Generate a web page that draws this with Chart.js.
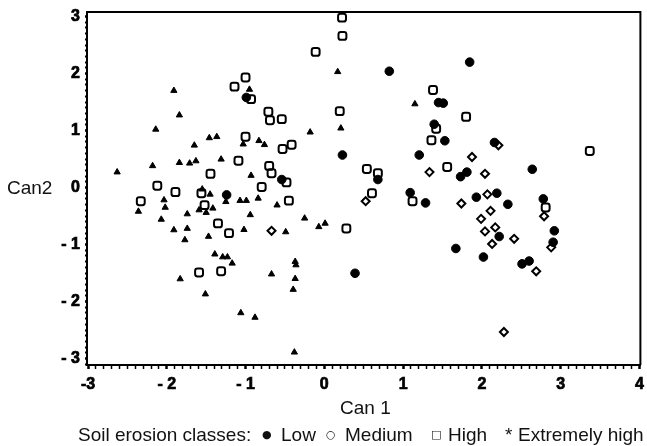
<!DOCTYPE html>
<html>
<head>
<meta charset="utf-8">
<script src="https://cdn.jsdelivr.net/npm/chart.js@4"></script>
<style>
  html, body { margin: 0; padding: 0; background: #fff; }
  #wrap { position: relative; width: 647px; height: 446px; overflow: hidden; font-family: "Liberation Sans", Arial, sans-serif; font-size: 19px; line-height: 22px; color: #111; }
  #wrap span, #wrap div { position: absolute; white-space: pre; }
  .mark { font-size: 11px; font-family: "DejaVu Sans", sans-serif; }
</style>
</head>
<body>
<div id="wrap">
  <canvas id="plot" width="647" height="446"></canvas>
  <div style="left:7px;top:177px">Can2</div>
  <div style="left:340px;top:397px">Can 1</div>
  <span style="left:78px;top:424px">Soil erosion classes:</span>
  <span class="mark" style="left:262px;top:424px">●</span>
  <span style="left:281px;top:424px">Low</span>
  <span class="mark" style="left:326px;top:424px">○</span>
  <span style="left:345px;top:424px">Medium</span>
  <span class="mark" style="left:431px;top:424px">□</span>
  <span style="left:448px;top:424px">High</span>
  <span style="left:505px;top:424px">*</span>
  <span style="left:518px;top:424px">Extremely high</span>
</div>
<script>
// points, [Can 1, Can 2]
const lowPts = [[0.825,2.04],[1.845,2.2],[1.45,1.49],[1.51,1.48],[1.395,1.11],[1.53,0.82],[2.16,0.79],[0.23,0.57],[1.205,0.57],[2.64,0.32],[1.73,0.19],[1.81,0.27],[0.68,0.14],[1.09,-0.09],[1.285,-0.27],[1.93,-0.17],[2.19,-0.1],[2.33,-0.295],[2.78,-0.2],[2.92,-0.76],[2.905,-0.96],[2.22,-0.86],[1.67,-1.07],[2.02,-1.22],[2.51,-1.34],[2.6,-1.29],[0.39,-1.505],[-0.54,0.14],[-0.99,1.58],[-1.24,-0.13]];
const mediumPts = [[1.875,0.535],[2.21,0.74],[1.335,0.27],[2.04,0.24],[2.07,-0.12],[0.525,-0.24],[1.74,-0.28],[2.11,-0.41],[1.99,-0.55],[2.17,-0.7],[2.04,-0.77],[2.13,-0.99],[2.41,-0.9],[2.79,-0.505],[2.88,-1.05],[2.69,-1.47],[2.28,-2.535],[-0.67,-0.76]];
const highPts = [[-0.11,2.38],[-1,1.93],[-1.14,1.77],[-0.93,1.55],[-0.71,1.33],[-0.69,1.18],[-0.54,1.2],[-1,0.89],[-0.415,0.75],[-0.53,0.675],[-1.09,0.47],[-1.445,0.24],[-0.7,0.38],[-0.67,0.25],[-0.48,0.09],[-0.795,0.01],[-2.12,0.03],[-1.89,-0.08],[-1.56,-0.1],[-0.45,-0.23],[-2.33,-0.24],[-1.52,-0.31],[-1.35,-0.63],[-1.21,-0.8],[-1.59,-1.49],[-1.31,-1.47],[0.225,2.98],[0.23,2.66],[0.196,1.34],[1.38,1.71],[1.8,1.24],[1.42,1.03],[1.36,0.83],[3.37,0.64],[0.54,0.325],[0.68,0.25],[1.56,0.36],[0.605,-0.1],[0.28,-0.72],[2.81,-0.35],[1.12,-0.24]];
const extremePts = [[-1.91,1.7],[-0.95,1.72],[-1.84,1.27],[-2.14,1.02],[-0.18,0.97],[-1.46,0.87],[-1.365,0.89],[-1.65,0.74],[-1.03,0.76],[-0.83,0.82],[-0.76,0.75],[-2.18,0.38],[-1.84,0.435],[-1.71,0.425],[-1.63,0.465],[-1.31,0.495],[-0.93,0.21],[-2.63,0.27],[-1.55,-0.03],[-1.45,-0.12],[-2.035,-0.22],[-2.36,-0.42],[-2.02,-0.35],[-2.07,-0.56],[-1.74,-0.465],[-1.91,-0.745],[-1.74,-0.72],[-1.77,-0.92],[-1.59,-0.395],[-1.5,-0.44],[-1.415,-0.365],[-1.47,-0.86],[-1.25,-0.25],[-1.07,-0.23],[-0.99,-0.23],[-0.84,-0.19],[-0.6,-0.31],[-0.94,-0.48],[-1.02,-0.74],[-0.49,-0.78],[-0.25,-0.54],[-0.07,-0.69],[0.01,-0.63],[-1.39,-1.17],[-1.29,-1.22],[-1.23,-1.22],[-1.17,-1.33],[-1.83,-1.605],[-0.67,-1.52],[-0.37,-1.3],[-0.36,-1.36],[-0.37,-1.6],[-0.395,-1.79],[-1.51,-1.87],[-1.06,-2.2],[-0.88,-2.28],[-0.38,-2.89],[0.17,2.03],[1.15,1.465],[0.21,1.04]];

const toXY = pts => pts.map(p => ({ x: p[0], y: p[1] }));
const isWhole = v => Math.abs(v - Math.round(v)) < 1e-6;
const tickText = v => {
  if (!isWhole(v)) return '';
  const n = Math.round(v);
  return n < 0 ? '- ' + (-n) : String(n);
};
const xTickText = v => isWhole(v) && Math.round(v) === -3 ? '-3' : tickText(v);
const tickFont = { family: 'Liberation Sans', weight: 'bold', size: 16 };

// frame on the top and right sides
const frame = {
  id: 'frame',
  afterDraw(c) {
    const { left, right, top, bottom } = c.chartArea, ctx = c.ctx;
    ctx.save();
    ctx.strokeStyle = '#000';
    ctx.lineWidth = 2;
    ctx.beginPath();
    ctx.moveTo(left, top);
    ctx.lineTo(right, top);
    ctx.lineTo(right, bottom);
    ctx.stroke();
    ctx.restore();
  }
};

new Chart(document.getElementById('plot'), {
  type: 'scatter',
  data: {
    datasets: [
      { label: 'Extremely high', data: toXY(extremePts), pointStyle: 'triangle', pointRadius: 3.6, backgroundColor: '#000', borderColor: '#000', borderWidth: 1 },
      { label: 'High', data: toXY(highPts), pointStyle: 'rectRounded', pointRadius: 4.6, backgroundColor: 'transparent', borderColor: '#000', borderWidth: 2 },
      { label: 'Medium', data: toXY(mediumPts), pointStyle: 'rectRot', pointRadius: 4, backgroundColor: 'transparent', borderColor: '#000', borderWidth: 2 },
      { label: 'Low', data: toXY(lowPts), pointStyle: 'circle', pointRadius: 4.3, backgroundColor: '#000', borderColor: '#000', borderWidth: 1 }
    ]
  },
  plugins: [frame],
  options: {
    responsive: false,
    animation: false,
    layout: { padding: { top: 12, right: 5, left: 0, bottom: 0 } },
    plugins: { legend: { display: false }, tooltip: { enabled: false } },
    scales: {
      x: {
        type: 'linear', min: -3.0127, max: 4.0127,
        afterFit: s => { s.height = 81; s.paddingLeft = 0; s.paddingRight = 0; },
        border: { color: '#000', width: 2 },
        grid: { drawOnChartArea: false, tickLength: 4, tickColor: '#000', tickWidth: c => isWhole(c.tick.value) ? 2.5 : 1.5 },
        ticks: { stepSize: 0.1, includeBounds: false, autoSkip: false, maxRotation: 0, padding: 6, color: '#000', textStrokeColor: '#000', textStrokeWidth: 0.7, font: tickFont, callback: xTickText }
      },
      y: {
        type: 'linear', min: -3.114, max: 3.079,
        afterFit: s => { s.width = 87; s.paddingTop = 0; s.paddingBottom = 0; },
        border: { color: '#000', width: 2 },
        grid: { drawOnChartArea: false, tickLength: 2, tickColor: '#000', tickWidth: c => isWhole(c.tick.value) ? 2.5 : 2 },
        ticks: { stepSize: 0.1, includeBounds: false, autoSkip: false, padding: 5, color: '#000', textStrokeColor: '#000', textStrokeWidth: 0.7, font: tickFont, callback: tickText }
      }
    }
  }
});
</script>
</body>
</html>
